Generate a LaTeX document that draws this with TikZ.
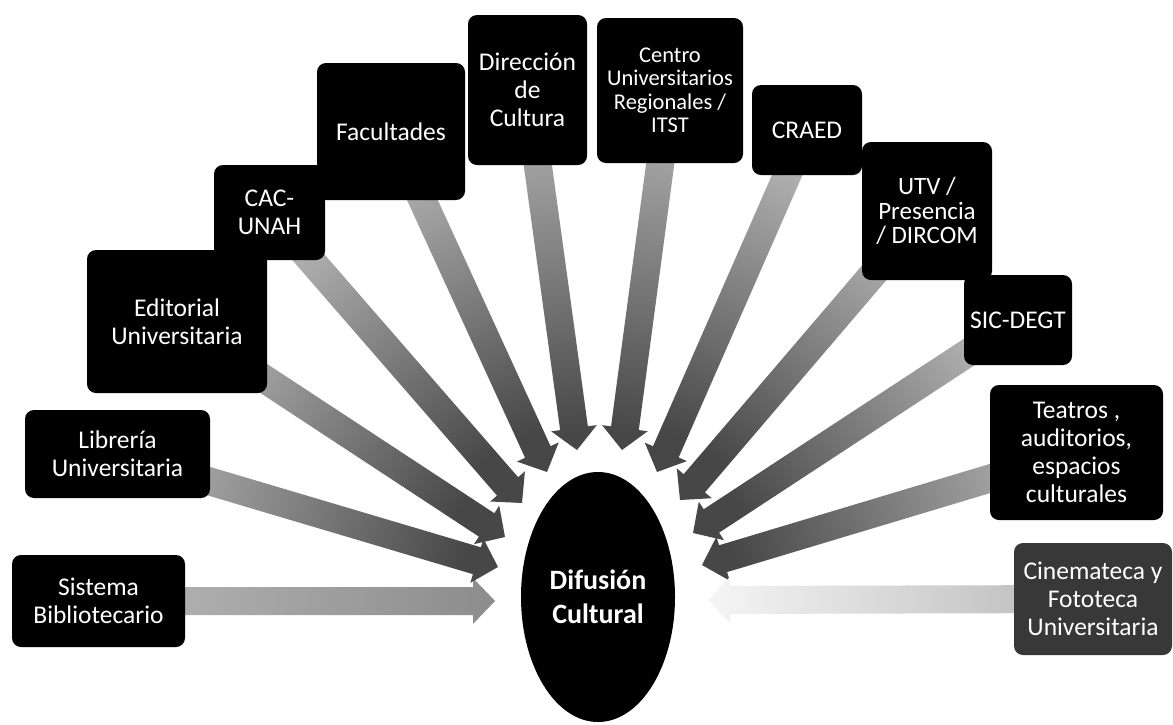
\documentclass[tikz,border=0pt]{standalone}
\usepackage{fontspec}
\setmainfont{Carlito}
\usetikzlibrary{calc,shapes.geometric,backgrounds}
\newcommand\blockarr[4]{%
  \coordinate (bt) at (#1.center);
  \coordinate (bp) at (#2);
  \coordinate (bh) at ($(bp)!22pt!(bt)$);
  \pgfmathanglebetweenpoints{\pgfpointanchor{bt}{center}}{\pgfpointanchor{bp}{center}}%
  \pgfmathsetmacro\arrang{\pgfmathresult-90}%
  \path[top color=#4,bottom color=#3,shading angle=\arrang]
    ($(bt)!14pt!90:(bp)$) -- ($(bh)!14pt!90:(bp)$) -- ($(bh)!23pt!90:(bp)$)
    -- (bp) -- ($(bh)!23pt!-90:(bp)$) -- ($(bh)!14pt!-90:(bp)$)
    -- ($(bt)!14pt!-90:(bp)$) -- cycle;
}
\tikzset{
  box/.style={fill=black, rounded corners=9pt, text=white, align=center,
    inner sep=0pt, font=\fontsize{25.5}{28}\selectfont},
  hub/.style={ellipse, fill=black, text=white, align=center, inner sep=0pt,
    font=\fontsize{28}{34}\selectfont\bfseries},
}
\colorlet{tailc}{black!30}
\colorlet{tipc}{black!72}
\begin{document}
\begin{tikzpicture}[x=1pt,y=-1pt]
\useasboundingbox (0,0) rectangle (1173,724);
% boxes
\node[box, minimum width=173pt, minimum height=92pt] (sis) at (98.5,601) {Sistema\\Bibliotecario};
\node[box, minimum width=185pt, minimum height=88pt] (lib) at (117.5,454) {Librería\\Universitaria};
\node[box, minimum width=111pt, minimum height=95pt] (cac) at (269.5,212.5) {CAC-\\UNAH};
\node[box, minimum width=180pt, minimum height=143pt] (edi) at (177,321.5) {Editorial\\Universitaria};
\node[box, minimum width=148pt, minimum height=137pt] (fac) at (391,131.5) {Facultades};
\node[box, minimum width=119pt, minimum height=150pt] (dir) at (527.5,90) {Dirección\\de\\Cultura};
\node[box, minimum width=146pt, minimum height=145pt, font=\fontsize{22.5}{23.5}\selectfont] (cen) at (670,90.5) {Centro\\Universitarios\\Regionales /\\ITST};
\node[box, minimum width=110pt, minimum height=90pt] (cra) at (807,130) {CRAED};
\node[box, minimum width=130pt, minimum height=138pt, font=\fontsize{25}{24.5}\selectfont] (utv) at (927,211) {UTV /\\Presencia\\/ DIRCOM};
\node[box, minimum width=108pt, minimum height=90pt] (sic) at (1018,320) {SIC-DEGT};
\node[box, minimum width=173pt, minimum height=135pt] (tea) at (1076.5,452.5) {Teatros ,\\auditorios,\\espacios\\culturales};
\node[box, fill=black!78, minimum width=158pt, minimum height=112pt] (cin) at (1093,599) {Cinemateca y\\Fototeca\\Universitaria};
\node[hub, minimum width=154pt, minimum height=250pt] (dc) at (598,597) {Difusión\\Cultural};
% arrow tips
\coordinate (tsis) at (495,601);
\coordinate (tlib) at (498,567);
\coordinate (tedi) at (505,537);
\coordinate (tcac) at (522,503);
\coordinate (tfac) at (547,472);
\coordinate (tdir) at (577,450);
\coordinate (tcen) at (622,450);
\coordinate (tcra) at (657,472);
\coordinate (tutv) at (680,500);
\coordinate (tsic) at (693,533);
\coordinate (ttea) at (702,565);
\coordinate (tcin) at (708,600);
\begin{pgfonlayer}{background}
\fill[white] (0,0) rectangle (1173,724);
\blockarr{sis}{tsis}{black!28}{black!45}
\blockarr{lib}{tlib}{tailc}{tipc}
\blockarr{edi}{tedi}{tailc}{tipc}
\blockarr{cac}{tcac}{tailc}{tipc}
\blockarr{fac}{tfac}{tailc}{tipc}
\blockarr{dir}{tdir}{tailc}{tipc}
\blockarr{cen}{tcen}{tailc}{tipc}
\blockarr{cra}{tcra}{tailc}{tipc}
\blockarr{utv}{tutv}{tailc}{tipc}
\blockarr{sic}{tsic}{tailc}{tipc}
\blockarr{tea}{ttea}{tailc}{tipc}
\blockarr{cin}{tcin}{black!28}{black!4}
\end{pgfonlayer}
\end{tikzpicture}
\end{document}
